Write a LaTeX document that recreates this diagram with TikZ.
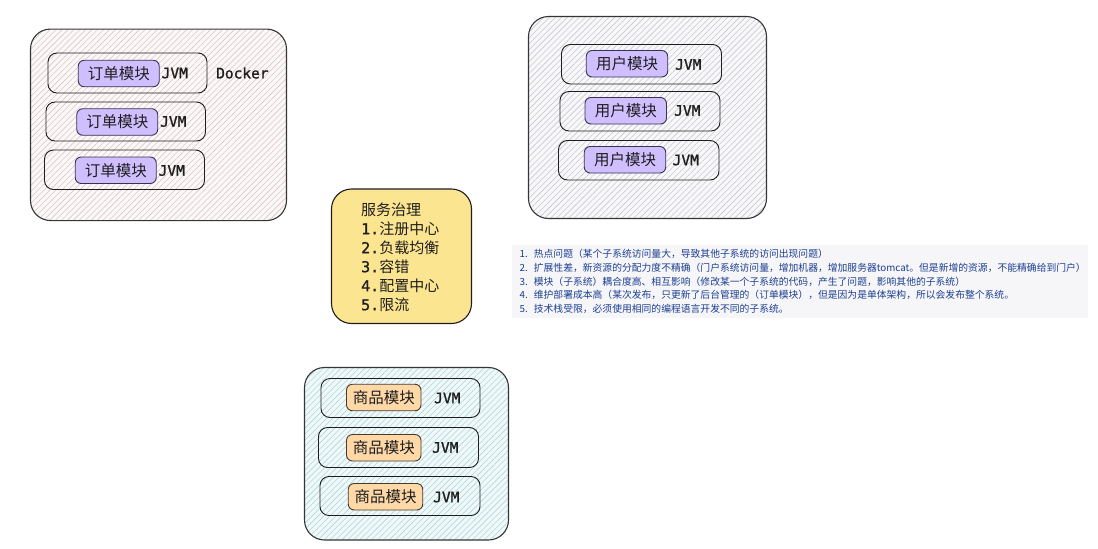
\documentclass[tikz,border=0pt]{standalone}
\usepackage{fontspec}
\setmainfont{Noto Sans CJK SC}
\newfontfamily\codefont[FakeBold=1.2]{DejaVu Sans Mono}
\usetikzlibrary{patterns.meta}

\definecolor{ink}{HTML}{1E1E1E}
\definecolor{violetfill}{HTML}{D0BFFF}
\definecolor{violetedge}{HTML}{3A3350}
\definecolor{orangefill}{HTML}{FFD8A8}
\definecolor{orangeedge}{HTML}{4A3A2A}
\definecolor{yellowfill}{HTML}{FCE590}
\definecolor{rosebg}{HTML}{FCF8F8}
\definecolor{rosehatch}{HTML}{D6CACA}
\definecolor{greybg}{HTML}{F8F8FA}
\definecolor{greyhatch}{HTML}{C8C8D0}
\definecolor{cyanbg}{HTML}{EFF9F9}
\definecolor{cyanhatch}{HTML}{B3D5DA}
\definecolor{notebg}{HTML}{F6F6F9}
\definecolor{noteink}{HTML}{1D3F8F}

\tikzset{
  hatched/.style 2 args={preaction={fill=#1},
    pattern={Lines[angle=45,distance=4.2pt,line width=0.6pt]}, pattern color=#2},
  container/.style={draw=ink!90, line width=1.1pt, rounded corners=20pt, inner sep=0pt},
  rowbox/.style={draw=ink, line width=0.9pt, rounded corners=9pt, inner sep=0pt,
    minimum width=160pt, minimum height=39.5pt},
  module/.style={line width=0.9pt, rounded corners=6pt, inner sep=0pt,
    minimum height=26.5pt, font=\fontsize{15.5}{18}\selectfont, text=ink},
  ordermod/.style={module, draw=violetedge, fill=violetfill, minimum width=81pt},
  usermod/.style={module, draw=violetedge, fill=violetfill, minimum width=81.5pt},
  goodsmod/.style={module, draw=orangeedge, fill=orangefill, minimum width=74.5pt},
  codelabel/.style={anchor=west, inner sep=0pt, text=ink, font=\codefont\fontsize{14.5}{17}\selectfont},
}

\begin{document}
\begin{tikzpicture}[x=1pt, y=-1pt]
\useasboundingbox (0,0) rectangle (1098,549);

% order service: three JVMs inside one Docker host
\node[container, hatched={rosebg}{rosehatch}, minimum width=256pt, minimum height=191.5pt]
  (dockerhost) at (158.5,124.8) {};
\node[rowbox, minimum width=159pt, minimum height=40pt] (orderjvmA) at (127.5,73) {};
\node[rowbox, minimum width=159.5pt, minimum height=39pt] (orderjvmB) at (125.75,121.5) {};
\node[rowbox, minimum height=39.5pt] (orderjvmC) at (124.5,169.75) {};
\node[ordermod] (orderA) at (118.75,73.5) {订单模块};
\node[ordermod] (orderB) at (117.25,122) {订单模块};
\node[ordermod] (orderC) at (115.75,170.25) {订单模块};
\node[codelabel] (orderlabA) at (161.5,73) {JVM};
\node[codelabel] (orderlabB) at (160,121.5) {JVM};
\node[codelabel] (orderlabC) at (158.5,170.5) {JVM};
\node[codelabel] (dockerlab) at (216,73) {Docker};

% user service
\node[container, hatched={greybg}{greyhatch}, minimum width=238pt, minimum height=202pt]
  (userhost) at (647.5,117.5) {};
\node[rowbox] (userjvmA) at (641.5,64.25) {};
\node[rowbox] (userjvmB) at (640,111.25) {};
\node[rowbox, minimum width=160.5pt] (userjvmC) at (638.75,160.25) {};
\node[usermod] (userA) at (627,63.75) {用户模块};
\node[usermod] (userB) at (625.75,110.75) {用户模块};
\node[usermod] (userC) at (625,159.75) {用户模块};
\node[codelabel] (userlabA) at (675,64.5) {JVM};
\node[codelabel] (userlabB) at (674,110.5) {JVM};
\node[codelabel] (userlabC) at (672.5,160) {JVM};

% goods service
\node[container, hatched={cyanbg}{cyanhatch}, minimum width=204pt, minimum height=172.5pt]
  (goodshost) at (406.5,453.75) {};
\node[rowbox, minimum width=159pt, minimum height=39pt] (goodsjvmA) at (400.5,398) {};
\node[rowbox, minimum height=40pt] (goodsjvmB) at (398.5,447.5) {};
\node[rowbox, minimum height=39pt] (goodsjvmC) at (400,496) {};
\node[goodsmod] (goodsA) at (383.75,397.5) {商品模块};
\node[goodsmod] (goodsB) at (383.75,447.75) {商品模块};
\node[goodsmod] (goodsC) at (385.5,496.75) {商品模块};
\node[codelabel] (goodslabA) at (434,398) {JVM};
\node[codelabel] (goodslabB) at (432,447.5) {JVM};
\node[codelabel] (goodslabC) at (433,497) {JVM};

% service governance card
\node[draw=ink, line width=1.1pt, fill=yellowfill, rounded corners=20pt, inner sep=0pt,
  minimum width=140pt, minimum height=134.5pt] (governance) at (401.5,256.25) {};
\node[anchor=west, align=left, inner sep=0pt, text=ink,
  font=\fontsize{15}{19}\selectfont] (govtext) at (361,257) {%
  服务治理\\
  {\codefont 1.}注册中心\\
  {\codefont 2.}负载均衡\\
  {\codefont 3.}容错\\
  {\codefont 4.}配置中心\\
  {\codefont 5.}限流};

% problems of the monolith
\node[fill=notebg, inner sep=0pt, minimum width=576pt, minimum height=73pt]
  (noteback) at (800,281.5) {};
\node[anchor=west, align=left, inner sep=0pt, text=noteink,
  font=\fontsize{9.8}{13.6}\selectfont] (notetext) at (519.5,281.5) {%
  1.\hspace{6pt}热点问题（某个子系统访问量大，导致其他子系统的访问出现问题）\\
  2.\hspace{6pt}扩展性差，新资源的分配力度不精确（门户系统访问量，增加机器，增加服务器tomcat。但是新增的资源，不能精确给到门户）\\
  3.\hspace{6pt}模块（子系统）耦合度高、相互影响（修改某一个子系统的代码，产生了问题，影响其他的子系统）\\
  4.\hspace{6pt}维护部署成本高（某次发布，只更新了后台管理的（订单模块），但是因为是单体架构，所以会发布整个系统。\\
  5.\hspace{6pt}技术栈受限，必须使用相同的编程语言开发不同的子系统。};
\end{tikzpicture}
\end{document}
